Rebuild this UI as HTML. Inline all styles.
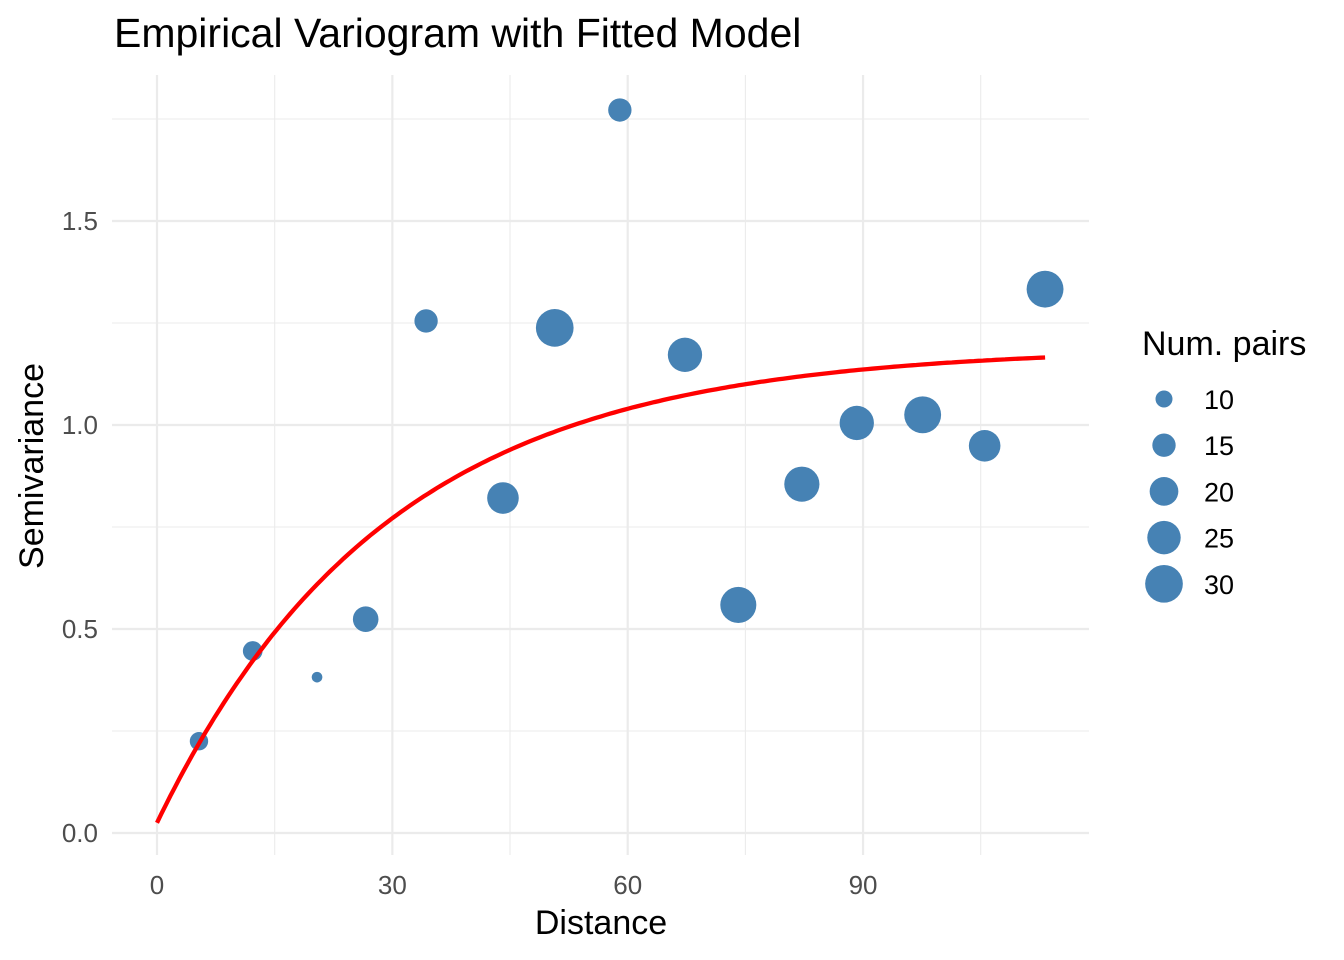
<!DOCTYPE html>
<html><head><meta charset="utf-8"><style>
html,body{margin:0;padding:0;background:#fff;}
svg{display:block;font-family:"Liberation Sans",Arial,sans-serif;}
</style></head><body>
<svg id="chart" width="1344" height="960"></svg>
<script>
const distances=[5.35,12.2,20.4,26.6,34.3,44.1,50.7,59.0,67.3,74.1,82.2,89.2,97.6,105.5,113.2];
const gammas=[0.225,0.446,0.382,0.524,1.255,0.821,1.238,1.772,1.172,0.559,0.855,1.005,1.025,0.949,1.333];
const npairs=[11,12,6,17,15,23,30,15,26,28,27,26,29,23,29];
const modelParams=[0.025,1.165,29.3]; // nugget, partial sill, range
const xTicks=[0,30,60,90];
const yTicks=[0,0.5,1.0,1.5];
const legendSizes=[10,15,20,25,30];

const NS="http://www.w3.org/2000/svg";
const svg=document.getElementById('chart');
const X=v=>157+v*7.845;
const Y=v=>833-v*408;
const R=n=>(17+(Math.sqrt(n)-Math.sqrt(10))*8.94)/2;
function mk(tag,attrs,parent){const e=document.createElementNS(NS,tag);for(const k in attrs)e.setAttribute(k,attrs[k]);(parent||svg).appendChild(e);return e;}

const grid=mk('g',{});


for(let i=0;i<yTicks.length-1;i++){const m=(yTicks[i]+yTicks[i+1])/2;mk('line',{x1:112,x2:1089,y1:Y(m),y2:Y(m),stroke:'#ebebeb','stroke-width':1.1},grid);}
mk('line',{x1:112,x2:1089,y1:Y(1.75),y2:Y(1.75),stroke:'#ebebeb','stroke-width':1.1},grid);
for(let i=0;i<xTicks.length;i++){const m=xTicks[i]+15;mk('line',{x1:X(m),x2:X(m),y1:75,y2:855,stroke:'#ebebeb','stroke-width':1.1},grid);}
yTicks.forEach(t=>mk('line',{x1:112,x2:1089,y1:Y(t),y2:Y(t),stroke:'#ebebeb','stroke-width':2.2},grid));
xTicks.forEach(t=>mk('line',{x1:X(t),x2:X(t),y1:75,y2:855,stroke:'#ebebeb','stroke-width':2.2},grid));

yTicks.forEach(t=>{const e=mk('text',{x:98,y:Y(t)+9,'text-anchor':'end','font-size':26,fill:'#4d4d4d'});e.textContent=t.toFixed(1);

});
xTicks.forEach(t=>{const e=mk('text',{x:X(t),y:894,'text-anchor':'middle','font-size':26,fill:'#4d4d4d'});e.textContent=t;

});

const pts=mk('g',{});


distances.forEach((d,i)=>{const c=mk('circle',{cx:X(d),cy:Y(gammas[i]),r:R(npairs[i]),fill:'#4682b4'},pts);

});

let p='';
for(let i=0;i<=200;i++){const h=distances[distances.length-1]*i/200;const g=modelParams[0]+modelParams[1]*(1-Math.exp(-h/modelParams[2]));p+=(i?'L':'M')+X(h).toFixed(1)+','+Y(g).toFixed(1);}
const line=mk('path',{d:p,fill:'none',stroke:'#ff0000','stroke-width':4.3});



let t=mk('text',{x:114,y:47,'font-size':41,fill:'#000'});t.textContent='Empirical Variogram with Fitted Model';


t=mk('text',{x:601,y:934,'text-anchor':'middle','font-size':34,fill:'#000'});t.textContent='Distance';


t=mk('text',{x:0,y:0,'text-anchor':'middle','font-size':34,fill:'#000',transform:'translate(43,466) rotate(-90)'});t.textContent='Semivariance';



const leg=mk('g',{});


t=mk('text',{x:1142,y:355,'font-size':34,fill:'#000'},leg);t.textContent='Num. pairs';


legendSizes.forEach((s,i)=>{const cy=399+i*46.2;
const c=mk('circle',{cx:1164,cy:cy,r:R(s),fill:'#4682b4'},leg);


const l=mk('text',{x:1204,y:cy+10,'font-size':27,fill:'#000'},leg);l.textContent=s;

});
</script>
</body></html>
